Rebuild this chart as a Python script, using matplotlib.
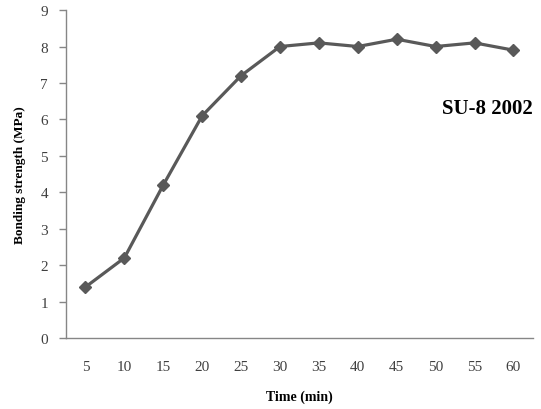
import matplotlib
matplotlib.use("Agg")
import matplotlib.pyplot as plt

times = ["5", "10", "15", "20", "25", "30", "35", "40", "45", "50", "55", "60"]
strength = [1.4, 2.2, 4.2, 6.1, 7.2, 8.0, 8.1, 8.0, 8.2, 8.0, 8.1, 7.9]
yticks = [0, 1, 2, 3, 4, 5, 6, 7, 8, 9]

plt.rcParams['font.family'] = ['Liberation Serif', 'DejaVu Serif']

fig = plt.figure(figsize=(5.41, 4.10), dpi=100)
ax = fig.add_axes([0.122, 0.173, 0.863, 0.80])
x = list(range(len(times)))
ax.plot(x, strength, color='#595959', lw=2.3, marker='D', markersize=6.5,
        markerfacecolor='#595959', markeredgecolor='#595959')
ax.set_xlim(-0.5, len(times) - 0.5)
ax.set_ylim(0, 9)
ax.set_xticks(x)
ax.set_xticklabels(times)
ax.set_yticks(yticks)
for s in ['top', 'right']:
    ax.spines[s].set_visible(False)
for s in ['left', 'bottom']:
    ax.spines[s].set_color('#868686')
    ax.spines[s].set_linewidth(1.0)
ax.tick_params(axis='x', length=0, pad=16, labelsize=11, labelcolor='#404040')
ax.tick_params(axis='y', length=5, width=1.0, color='#868686', pad=8, labelsize=11, labelcolor='#404040')
ax.set_xlabel('Time (min)', fontsize=10, fontweight='bold', labelpad=12)
ax.set_ylabel('Bonding strength (MPa)', fontsize=9.5, fontweight='bold', labelpad=10)
ax.text(0.999, 0.70, 'SU-8 2002', transform=ax.transAxes, ha='right', va='center',
        fontsize=15, fontweight='bold')
fig.savefig('out.png', dpi=100)
